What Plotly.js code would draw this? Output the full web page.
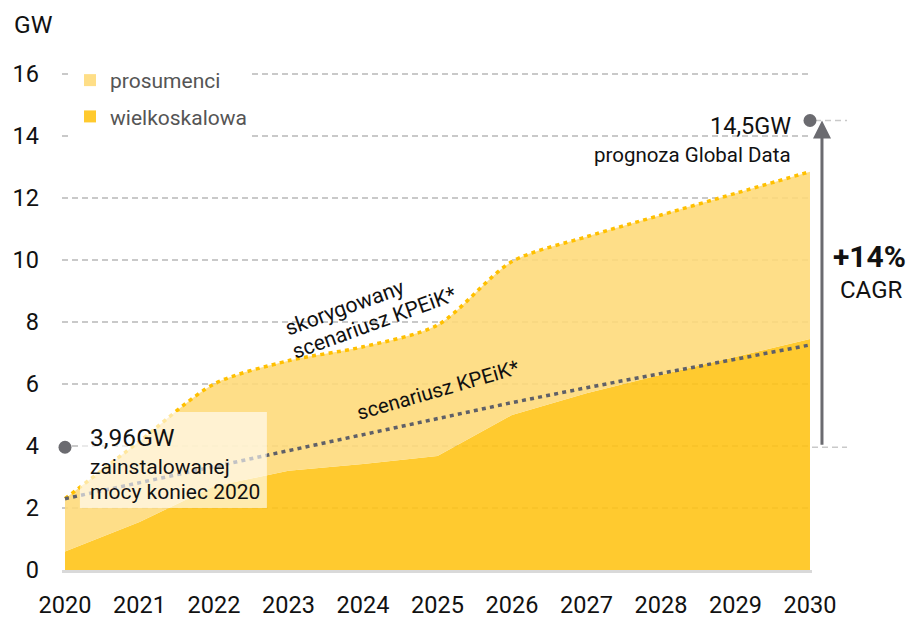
<!DOCTYPE html>
<html>
<head>
<meta charset="utf-8">
<script src="https://cdn.plot.ly/plotly-3.0.1.min.js"></script>
<style>
  html, body { margin: 0; padding: 0; background: #ffffff; }
  #chart { width: 909px; height: 618px; }
</style>
</head>
<body>
<div id="chart"></div>
<script>
// ---- data ----
const years = [2020, 2021, 2022, 2023, 2024, 2025, 2026, 2027, 2028, 2029, 2030];
const yearLabels = ["2020", "2021", "2022", "2023", "2024", "2025", "2026", "2027", "2028", "2029", "2030"];
// wielkoskalowa (utility-scale), GW
const wielkoskalowa = [0.6, 1.55, 2.7, 3.2, 3.42, 3.68, 5.0, 5.7, 6.3, 6.88, 7.45];
// skorygowany scenariusz KPEiK* = wielkoskalowa + prosumenci (top of stack), GW
const skorygowany = [2.3, 4.15, 6.0, 6.75, 7.2, 7.9, 9.95, 10.75, 11.45, 12.15, 12.85];
// scenariusz KPEiK*, GW
const kpeik = [2.3, 2.82, 3.34, 3.86, 4.37, 4.88, 5.4, 5.88, 6.34, 6.8, 7.26];
// reference points
const refYears = [2020, 2030];
const refValues = [3.96, 14.5];
const yTicks = [0, 2, 4, 6, 8, 10, 12, 14, 16];
const seriesNames = ["prosumenci", "wielkoskalowa"];

// ---- styles ----
const F = "Roboto, 'DejaVu Sans Condensed', sans-serif";
const colLight = "rgb(254,222,135)";
const colDark = "rgb(255,202,46)";
const gridDash = "6px,4px";
const gridCol = "#c9c9c9";
const arrowCol = "#6B6B70";

const traces = [
  {
    x: years, y: wielkoskalowa, type: "scatter", mode: "lines",
    fill: "tozeroy", fillcolor: "rgba(255,195,18,0.88)",
    line: { width: 0, shape: "linear" }, hoverinfo: "skip", showlegend: false
  },
  {
    x: years, y: skorygowany, type: "scatter", mode: "lines",
    fill: "tonexty", fillcolor: "rgba(254,217,119,0.88)",
    line: { width: 3.5, color: "#FFC000", dash: "4px,4.3px", shape: "spline", smoothing: 0.8 },
    hoverinfo: "skip", showlegend: false
  },
  {
    x: years, y: kpeik, type: "scatter", mode: "lines",
    line: { width: 3.5, color: "#5F6068", dash: "4px,4.2px" },
    hoverinfo: "skip", showlegend: false
  },
  {
    x: refYears, y: refValues, type: "scatter", mode: "markers",
    marker: { size: 13, color: arrowCol }, cliponaxis: false,
    hoverinfo: "skip", showlegend: false
  },
  {
    x: [null], y: [null], type: "scatter", mode: "markers", name: seriesNames[0],
    marker: { symbol: "square", size: 12, color: colLight }, legendgroup: "a"
  },
  {
    x: [null], y: [null], type: "scatter", mode: "markers", name: seriesNames[1],
    marker: { symbol: "square", size: 12, color: colDark }, legendgroup: "b"
  }
];

const txt = (text, x, y, size, opts) => Object.assign({
  text: text, x: x, y: y, xref: "x", yref: "y", showarrow: false,
  font: { family: F, size: size, color: "#111" }, xanchor: "center", yanchor: "middle"
}, opts || {});

const annotations = [
  txt("GW", -0.0667, 1.0748, 24.5, { xref: "paper", yref: "paper", xanchor: "left" }),
  txt("3,96GW", 2020.309, 4.26, 24.5, { xanchor: "left" }),
  txt("zainstalowanej", 2020.309, 3.32, 21, { xanchor: "left" }),
  txt("mocy koniec 2020", 2020.309, 2.52, 21, { xanchor: "left" }),
  txt("14,5GW", 2029.772, 14.32, 23.5, { xanchor: "right" }),
  txt("prognoza Global Data", 2029.772, 13.39, 20.5, { xanchor: "right" }),
  txt("<b>+14%</b>", 1.076, 10.11, 30, { xref: "paper" }),
  txt("CAGR", 1.0787, 9.03, 24, { xref: "paper" }),
  txt("skorygowany", 2023.745, 8.48, 21.3, { textangle: -20 }),
  txt("scenariusz KPEiK*", 2024.148, 7.97, 21.1, { textangle: -20 }),
  txt("scenariusz KPEiK*", 2025.007, 5.81, 20.5, { textangle: -16 }),
  {
    text: " ", x: 1.0133, y: refValues[1], ax: 0, ay: refValues[0],
    xref: "paper", yref: "y", axref: "pixel", ayref: "y",
    showarrow: true, arrowhead: 2, arrowsize: 1.2, arrowwidth: 3, arrowcolor: arrowCol,
    font: { size: 2 }
  }
];

const shapes = [
  { type: "rect", xref: "x", yref: "y", x0: 2020.2, x1: 2022.71, y0: 2.0, y1: 5.1,
    fillcolor: "rgba(255,255,255,0.62)", line: { width: 0 }, layer: "above" },
  { type: "line", xref: "paper", yref: "y", x0: 1.0, x1: 1.0467, y0: refValues[0], y1: refValues[0],
    line: { color: gridCol, width: 1.5, dash: gridDash }, layer: "below" },
  { type: "line", xref: "paper", yref: "y", x0: 1.004, x1: 1.0467, y0: refValues[1], y1: refValues[1],
    line: { color: gridCol, width: 1.5, dash: gridDash }, layer: "below" }
];

const layout = {
  width: 909, height: 618,
  margin: { l: 62, r: 97, t: 62, b: 48 },
  paper_bgcolor: "#ffffff", plot_bgcolor: "#ffffff",
  font: { family: F, color: "#111" },
  showlegend: true,
  legend: {
    x: 0.0107, y: 1.004, xanchor: "left", yanchor: "top",
    bgcolor: "#ffffff", font: { family: F, size: 21, color: "#555" },
    tracegroupgap: 6, itemwidth: 30
  },
  xaxis: {
    range: [2019.9597, 2030.027], tickvals: years, ticktext: yearLabels,
    showgrid: false, zeroline: false, showline: true, linecolor: "#d9d9d9", linewidth: 2.5,
    ticks: "", ticklabelstandoff: 12, tickfont: { family: F, size: 23.5, color: "#111" }, fixedrange: true
  },
  yaxis: {
    range: [0, 16.387], tickvals: yTicks, ticktext: yTicks.map(String),
    showgrid: true, gridcolor: gridCol, gridwidth: 1.5, griddash: gridDash,
    zeroline: false, showline: false, ticks: "", ticklabelstandoff: 22,
    tickfont: { family: F, size: 23.5, color: "#111" }, fixedrange: true
  },
  annotations: annotations,
  shapes: shapes
};

Plotly.newPlot("chart", traces, layout, { displayModeBar: false, staticPlot: true });
</script>
</body>
</html>
